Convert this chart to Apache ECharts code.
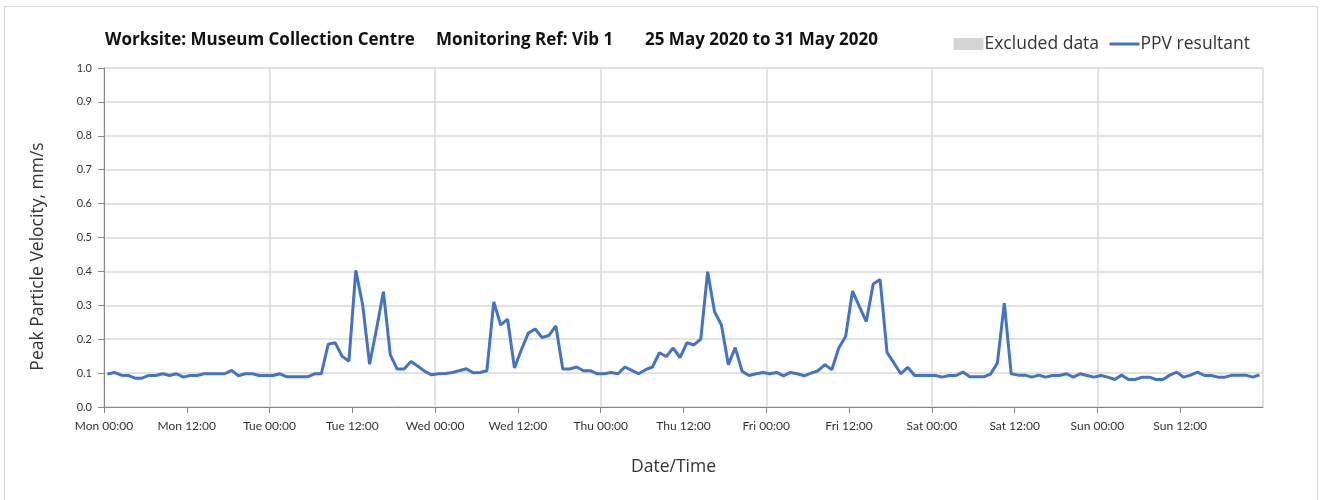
<!DOCTYPE html>
<html>
<head>
<meta charset="utf-8">
<script src="https://cdn.jsdelivr.net/npm/echarts@6/dist/echarts.min.js"></script>
<style>
  html, body { margin: 0; padding: 0; background: #fff; }
  #frame { position: absolute; left: 4px; top: 6px; width: 1314px; height: 494px; border: 1px solid #d9d9d9; border-bottom: none; box-sizing: border-box; }
  #main { position: absolute; left: 0; top: 0; width: 1325px; height: 500px; }
</style>
</head>
<body>
<div id="frame"></div>
<div id="main"></div>
<script>
// day names for the tick labels (x axis counts hours from Mon 00:00)
var dayNames = ['Mon', 'Tue', 'Wed', 'Thu', 'Fri', 'Sat', 'Sun'];
var yTicks = [0, 0.1, 0.2, 0.3, 0.4, 0.5, 0.6, 0.7, 0.8, 0.9, 1.0];

// hourly PPV resultant, mm/s (points sit at the half hour)
var ppvMon = [0.097, 0.102, 0.094, 0.093, 0.085, 0.085, 0.093, 0.093, 0.098, 0.093, 0.098, 0.088,
              0.093, 0.093, 0.098, 0.098, 0.098, 0.098, 0.108, 0.092, 0.098, 0.098, 0.093, 0.093];
var ppvTue = [0.093, 0.098, 0.089, 0.089, 0.089, 0.089, 0.098, 0.098, 0.185, 0.190, 0.150, 0.135,
              0.403, 0.300, 0.126, 0.230, 0.340, 0.154, 0.112, 0.112, 0.134, 0.120, 0.105, 0.095];
var ppvWed = [0.098, 0.099, 0.102, 0.107, 0.113, 0.101, 0.102, 0.107, 0.310, 0.242, 0.259, 0.115,
              0.169, 0.218, 0.230, 0.205, 0.211, 0.239, 0.112, 0.112, 0.118, 0.107, 0.107, 0.098];
var ppvThu = [0.098, 0.102, 0.098, 0.118, 0.108, 0.098, 0.110, 0.118, 0.160, 0.149, 0.174, 0.146,
              0.190, 0.183, 0.200, 0.399, 0.281, 0.242, 0.125, 0.175, 0.105, 0.093, 0.098, 0.102];
var ppvFri = [0.098, 0.102, 0.092, 0.102, 0.098, 0.092, 0.100, 0.107, 0.125, 0.110, 0.174, 0.208,
              0.342, 0.296, 0.252, 0.363, 0.376, 0.161, 0.130, 0.098, 0.117, 0.093, 0.093, 0.093];
var ppvSat = [0.093, 0.088, 0.093, 0.093, 0.103, 0.089, 0.089, 0.089, 0.097, 0.130, 0.306, 0.098,
              0.094, 0.094, 0.088, 0.094, 0.088, 0.093, 0.093, 0.098, 0.088, 0.098, 0.093, 0.088];
var ppvSun = [0.093, 0.088, 0.081, 0.094, 0.081, 0.081, 0.088, 0.088, 0.081, 0.081, 0.094, 0.103,
              0.088, 0.094, 0.103, 0.093, 0.093, 0.088, 0.088, 0.094, 0.094, 0.094, 0.088, 0.095];

var ppv = [].concat(ppvMon, ppvTue, ppvWed, ppvThu, ppvFri, ppvSat, ppvSun);
var ppvPoints = ppv.map(function (v, i) { return [i + 0.5, v]; });

var myChart = echarts.init(document.getElementById('main'));

var font = 'Lato, "Open Sans", sans-serif';
var wide = '"Open Sans", Lato, sans-serif';
var titleStyle = { fontSize: 17, fontWeight: 'bold', color: '#111', fontFamily: wide };

var option = {
  animation: false,
  textStyle: { fontFamily: font },
  title: [
    { text: 'Worksite: Museum Collection Centre', left: 105, top: 32, padding: 0, textStyle: titleStyle },
    { text: 'Monitoring Ref: Vib 1', left: 436, top: 32, padding: 0, textStyle: titleStyle },
    { text: '25 May 2020 to 31 May 2020', left: 645, top: 32, padding: 0, textStyle: titleStyle }
  ],
  legend: {
    right: 70,
    top: 30,
    itemGap: 9,
    itemWidth: 30,
    itemHeight: 12,
    textStyle: { fontSize: 17.5, color: '#333', fontFamily: wide, padding: [0, 0, 0, -4] },
    data: [
      { name: 'Excluded data', icon: 'rect' },
      { name: 'PPV resultant', itemStyle: { opacity: 0 }, lineStyle: { width: 3 } }
    ]
  },
  grid: { left: 104, right: 62, top: 68, bottom: 93 },
  xAxis: [
    {
      type: 'value',
      min: 0,
      max: 168,
      interval: 12,
      name: 'Date/Time',
      nameLocation: 'middle',
      nameGap: 51,
      nameTextStyle: { fontSize: 17.5, color: '#333', fontFamily: wide, padding: [0, 20, 0, 0] },
      axisLine: { show: true, lineStyle: { color: '#868686', width: 1 } },
      axisTick: { show: true, length: 6, lineStyle: { color: '#868686' } },
      axisLabel: {
        showMaxLabel: false,
        margin: 13,
        fontSize: 12,
        color: '#333',
        formatter: function (v) {
          var d = Math.floor(v / 24);
          return dayNames[d] + ' ' + (v % 24 === 0 ? '00:00' : '12:00');
        }
      },
      splitLine: { show: false }
    },
    {
      // vertical gridlines at midnight only
      type: 'value',
      min: 0,
      max: 168,
      interval: 24,
      position: 'bottom',
      axisLine: { show: false },
      axisTick: { show: false },
      axisLabel: { show: false },
      splitLine: { show: true, lineStyle: { color: '#d9d9d9', width: 1.5 } }
    }
  ],
  yAxis: {
    type: 'value',
    min: yTicks[0],
    max: yTicks[yTicks.length - 1],
    interval: 0.1,
    name: 'Peak Particle Velocity, mm/s',
    nameLocation: 'middle',
    nameGap: 57,
    nameTextStyle: { fontSize: 17.5, color: '#333', fontFamily: wide, padding: [0, 38, 0, 0] },
    axisLine: { show: true, lineStyle: { color: '#868686', width: 1 } },
    axisTick: { show: true, length: 6, lineStyle: { color: '#868686' } },
    axisLabel: {
      fontSize: 11,
      color: '#333',
      margin: 12,
      formatter: function (v) { return v.toFixed(1); }
    },
    splitLine: { show: true, lineStyle: { color: '#d9d9d9', width: 1.5 } }
  },
  series: [
    {
      name: 'Excluded data',
      type: 'bar',
      data: [],
      itemStyle: { color: '#d4d4d4' }
    },
    {
      name: 'PPV resultant',
      type: 'line',
      data: ppvPoints,
      symbol: 'none',
      lineStyle: { color: '#4472c4', width: 3 },
      itemStyle: { color: '#4472c4' }
    }
  ]
};

myChart.setOption(option);
</script>
</body>
</html>
